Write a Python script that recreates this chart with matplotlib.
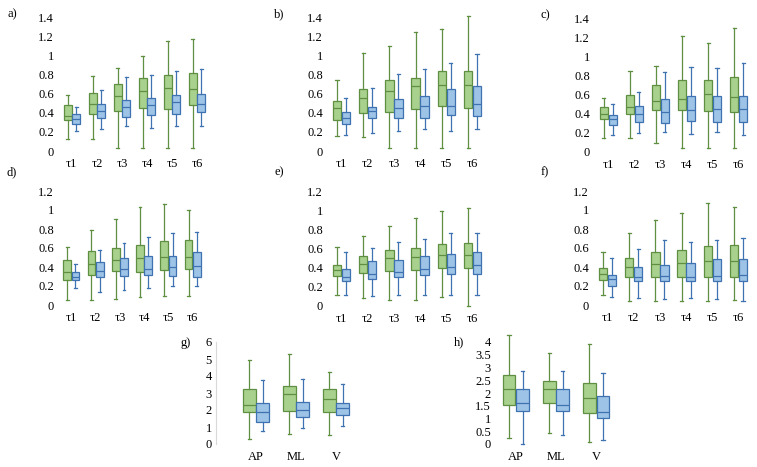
import matplotlib
matplotlib.use("Agg")
import matplotlib.pyplot as plt

plt.rcParams['font.family'] = ['Liberation Serif', 'DejaVu Serif']

W, H = 757, 467

tau_labels = ['τ1', 'τ2', 'τ3', 'τ4', 'τ5', 'τ6']
axis_labels = ['AP', 'ML', 'V']

# five-number summaries: [min, q1, median, q3, max]
a_green = [[0.13, 0.32, 0.37, 0.48, 0.58], [0.13, 0.39, 0.49, 0.61, 0.78],
           [0.03, 0.42, 0.57, 0.70, 0.87], [0.03, 0.45, 0.63, 0.76, 0.99],
           [0.03, 0.44, 0.66, 0.79, 1.15], [0.03, 0.48, 0.65, 0.82, 1.17]]
a_blue = [[0.21, 0.28, 0.33, 0.39, 0.46], [0.23, 0.35, 0.42, 0.49, 0.64],
          [0.26, 0.36, 0.46, 0.53, 0.77], [0.24, 0.38, 0.48, 0.55, 0.79],
          [0.26, 0.39, 0.51, 0.58, 0.84], [0.26, 0.41, 0.49, 0.60, 0.86]]

b_green = [[0.16, 0.32, 0.45, 0.52, 0.74], [0.15, 0.40, 0.55, 0.65, 1.02],
           [0.03, 0.41, 0.63, 0.74, 1.10], [0.03, 0.44, 0.68, 0.76, 1.24],
           [0.03, 0.47, 0.69, 0.84, 1.27], [0.03, 0.45, 0.69, 0.84, 1.41]]
b_blue = [[0.17, 0.28, 0.35, 0.41, 0.55], [0.19, 0.34, 0.42, 0.46, 0.66],
          [0.21, 0.35, 0.45, 0.54, 0.80], [0.23, 0.35, 0.47, 0.57, 0.86],
          [0.21, 0.38, 0.47, 0.65, 0.92], [0.23, 0.37, 0.49, 0.68, 1.01]]

c_green = [[0.15, 0.34, 0.40, 0.47, 0.56], [0.15, 0.40, 0.47, 0.60, 0.85],
           [0.09, 0.44, 0.53, 0.70, 0.90], [0.04, 0.44, 0.55, 0.75, 1.21],
           [0.04, 0.43, 0.61, 0.75, 1.14], [0.04, 0.42, 0.57, 0.78, 1.30]]
c_blue = [[0.18, 0.28, 0.34, 0.39, 0.50], [0.20, 0.31, 0.40, 0.48, 0.63],
          [0.21, 0.30, 0.42, 0.55, 0.84], [0.19, 0.32, 0.44, 0.58, 0.89],
          [0.21, 0.31, 0.45, 0.59, 0.88], [0.18, 0.31, 0.45, 0.59, 0.93]]

d_green = [[0.05, 0.26, 0.35, 0.47, 0.61], [0.05, 0.32, 0.43, 0.57, 0.79],
           [0.06, 0.36, 0.47, 0.60, 0.91], [0.08, 0.35, 0.50, 0.63, 1.03],
           [0.09, 0.37, 0.51, 0.67, 1.06], [0.09, 0.38, 0.51, 0.68, 1.00]]
d_blue = [[0.18, 0.26, 0.29, 0.35, 0.43], [0.14, 0.30, 0.36, 0.45, 0.58],
          [0.16, 0.31, 0.38, 0.49, 0.65], [0.18, 0.32, 0.38, 0.52, 0.72],
          [0.20, 0.31, 0.40, 0.52, 0.76], [0.20, 0.30, 0.41, 0.56, 0.77]]

e_green = [[0.12, 0.31, 0.38, 0.43, 0.62], [0.08, 0.34, 0.44, 0.52, 0.73],
           [0.06, 0.37, 0.50, 0.58, 0.84], [0.06, 0.38, 0.51, 0.61, 0.92],
           [0.09, 0.40, 0.53, 0.65, 0.99], [0.00, 0.40, 0.53, 0.66, 1.02]]
e_blue = [[0.12, 0.26, 0.30, 0.39, 0.56], [0.10, 0.28, 0.33, 0.47, 0.61],
          [0.11, 0.30, 0.35, 0.48, 0.67], [0.11, 0.32, 0.39, 0.52, 0.70],
          [0.11, 0.33, 0.41, 0.54, 0.76], [0.11, 0.33, 0.43, 0.56, 0.76]]

f_green = [[0.11, 0.26, 0.33, 0.39, 0.56], [0.04, 0.29, 0.40, 0.49, 0.76],
           [0.04, 0.30, 0.43, 0.56, 0.89], [0.04, 0.30, 0.44, 0.58, 0.97],
           [0.04, 0.30, 0.46, 0.62, 1.07], [0.05, 0.30, 0.46, 0.63, 1.03]]
f_blue = [[0.08, 0.20, 0.27, 0.32, 0.49], [0.07, 0.25, 0.30, 0.40, 0.59],
          [0.06, 0.25, 0.31, 0.42, 0.68], [0.07, 0.25, 0.30, 0.44, 0.66],
          [0.06, 0.25, 0.31, 0.48, 0.68], [0.04, 0.25, 0.32, 0.48, 0.71]]

g_green = [[0.29, 1.91, 2.32, 3.21, 4.93], [0.58, 1.95, 2.92, 3.41, 5.28],
           [0.53, 1.89, 2.65, 3.21, 4.23]]
g_blue = [[0.76, 1.29, 1.87, 2.40, 3.76], [0.92, 1.58, 1.99, 2.45, 3.80],
          [1.03, 1.69, 2.10, 2.40, 3.51]]

h_green = [[0.24, 1.54, 2.14, 2.72, 4.29], [0.44, 1.61, 2.14, 2.47, 3.58],
           [0.08, 1.22, 1.80, 2.41, 3.92]]
h_blue = [[0.01, 1.31, 1.61, 2.16, 2.85], [0.34, 1.31, 1.54, 2.16, 2.85],
          [0.14, 1.02, 1.25, 1.87, 2.80]]

ticks_14 = [0, 0.2, 0.4, 0.6, 0.8, 1, 1.2, 1.4]
ticks_12 = [0, 0.2, 0.4, 0.6, 0.8, 1, 1.2]
ticks_g = [0, 1, 2, 3, 4, 5, 6]
ticks_h = [0, 0.5, 1, 1.5, 2, 2.5, 3, 3.5, 4]

GREEN_FILL, GREEN_EDGE = '#a9d18e', '#5f8f40'
BLUE_FILL, BLUE_EDGE = '#9dc3e6', '#3f72b0'

fig = plt.figure(figsize=(W / 100, H / 100), dpi=100)


def make_axes(left, right, top, bottom):
    return fig.add_axes([left / W, 1 - bottom / H, (right - left) / W, (bottom - top) / H])


def to_stats(rows):
    return [dict(whislo=r[0], q1=r[1], med=r[2], q3=r[3], whishi=r[4], fliers=[]) for r in rows]


def draw_panel(ax, green, blue, labels, yticks, xlim, capw, show_spine=False):
    n = len(green)
    pos = list(range(1, n + 1))
    for rows, shift, fc, ec in [(green, -0.17, GREEN_FILL, GREEN_EDGE),
                                (blue, 0.17, BLUE_FILL, BLUE_EDGE)]:
        art = ax.bxp(to_stats(rows), positions=[p + shift for p in pos], widths=0.32,
                     capwidths=capw, patch_artist=True, showfliers=False,
                     boxprops=dict(facecolor=fc, edgecolor=ec, linewidth=0.9),
                     medianprops=dict(color=ec, linewidth=0.9),
                     whiskerprops=dict(color=ec, linewidth=0.9),
                     capprops=dict(color=ec, linewidth=0.9))
        for key in art:
            for a in art[key]:
                a.set_clip_on(False)
    ax.set_xlim(*xlim)
    ax.set_ylim(yticks[0], yticks[-1])
    ax.set_yticks(yticks)
    ax.set_yticklabels([f'{t:g}' for t in yticks], fontsize=9)
    ax.set_xticks(pos)
    ax.set_xticklabels(labels, fontsize=9)
    ax.tick_params(axis='y', length=0, pad=3)
    ax.tick_params(axis='x', length=0, pad=5)
    for side in ['top', 'right', 'bottom', 'left']:
        ax.spines[side].set_visible(False)
    if show_spine:
        ax.spines['left'].set_visible(True)
        ax.spines['left'].set_color('#d9d9d9')
    ax.set_facecolor('none')


tau_xlim = (0.45, 6.55)
panels = [
    ('a)', (12, 14), (58, 211, 17, 151), a_green, a_blue, ticks_14),
    ('b)', (279, 14), (327, 487, 17, 151), b_green, b_blue, ticks_14),
    ('c)', (545, 15), (594, 753, 18, 152), c_green, c_blue, ticks_14),
    ('d)', (12, 172), (58, 206, 191, 305), d_green, d_blue, ticks_12),
    ('e)', (279, 172), (327, 487, 191, 306), e_green, e_blue, ticks_12),
    ('f)', (545, 172), (593, 753, 191, 305), f_green, f_blue, ticks_12),
]
for lab, (lx, ly), box, gr, bl, yt in panels:
    ax = make_axes(*box)
    draw_panel(ax, gr, bl, tau_labels, yt, tau_xlim, 0.12)
    fig.text(lx / W, 1 - ly / H, lab, fontsize=9, ha='center', va='center')

ax_g = make_axes(216, 376, 342, 444)
draw_panel(ax_g, g_green, g_blue, axis_labels, ticks_g, (0, 4), 0.08, show_spine=True)
fig.text(186 / W, 1 - 343 / H, 'g)', fontsize=9, ha='center', va='center')

ax_h = make_axes(495, 617, 342, 444)
draw_panel(ax_h, h_green, h_blue, axis_labels, ticks_h, (0.48, 3.52), 0.08)
fig.text(459 / W, 1 - 342 / H, 'h)', fontsize=9, ha='center', va='center')

fig.savefig('out.png', dpi=100, facecolor='white')
